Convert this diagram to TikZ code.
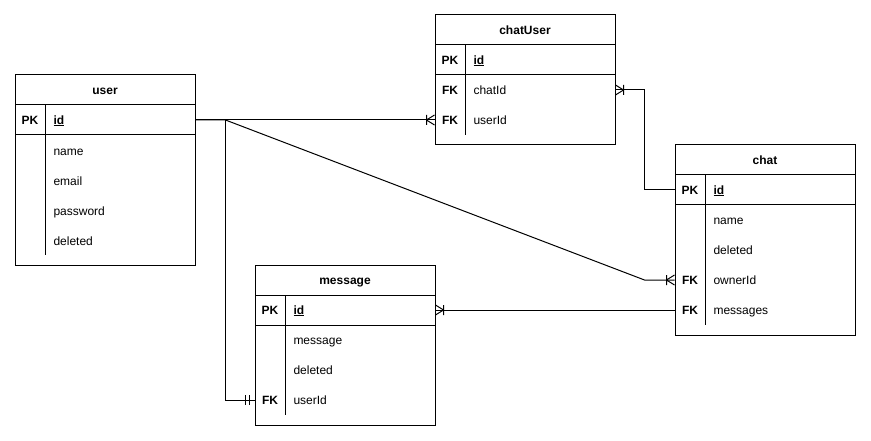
\documentclass[tikz,border=0pt]{standalone}
\usepackage{fontspec}
\setmainfont{Liberation Sans}
\begin{document}
\begin{tikzpicture}[x=1pt,y=-1pt,line width=1pt,
  tbl/.style={draw,rectangle,inner sep=0pt,fill=white},
  rowbox/.style={rectangle,inner sep=0pt,minimum width=180pt,minimum height=30pt},
  title/.style={font=\fontsize{12}{14}\selectfont\bfseries,text height=10pt,text depth=1.8pt,inner sep=0pt},
  keytxt/.style={font=\fontsize{12}{14}\selectfont\bfseries,text height=10pt,text depth=1.8pt,inner sep=0pt},
  fieldtxt/.style={anchor=west,font=\fontsize{12}{14}\selectfont,inner sep=0pt,text height=10pt,text depth=1.8pt},
  keyfield/.style={fieldtxt,font=\fontsize{12}{14}\selectfont\bfseries},
  conn/.style={draw,line width=1pt}]
\useasboundingbox (0,0) rectangle (871,441);

% ---------- user ----------
\node[tbl,minimum width=180pt,minimum height=190pt] (user) at (105,170) {};
\draw (15,105) -- (195,105);
\draw (15,135) -- (195,135);
\draw (45,105) -- (45,255);
\node[title] (userT) at (105,90) {user};
\node[rowbox] (uRowId) at (105,120) {};
\node[keytxt] (uPK) at (30,120) {PK};
\node[keyfield] (uId) at (53,120) {\underline{id}};
\node[fieldtxt] (uName) at (53,151) {name};
\node[fieldtxt] (uEmail) at (53,181) {email};
\node[fieldtxt] (uPass) at (53,211) {password};
\node[fieldtxt] (uDel) at (53,241) {deleted};

% ---------- chatUser ----------
\node[tbl,minimum width=180pt,minimum height=130pt] (chatUser) at (525,80) {};
\draw (435,45) -- (615,45);
\draw (435,75) -- (615,75);
\draw (465,45) -- (465,135);
\node[title] (cuT) at (525,30) {chatUser};
\node[rowbox] (cuRowId) at (525,60) {};
\node[rowbox] (cuRowChat) at (525,90) {};
\node[rowbox] (cuRowUser) at (525,120) {};
\node[keytxt] (cuPK) at (450,60) {PK};
\node[keyfield] (cuId) at (473,60) {\underline{id}};
\node[keytxt] (cuFK1) at (450,90) {FK};
\node[fieldtxt] (cuChat) at (473,90) {chatId};
\node[keytxt] (cuFK2) at (450,120) {FK};
\node[fieldtxt] (cuUser) at (473,120) {userId};

% ---------- chat ----------
\node[tbl,minimum width=180pt,minimum height=190pt] (chat) at (765,240) {};
\draw (675,175) -- (855,175);
\draw (675,205) -- (855,205);
\draw (705,175) -- (705,325);
\node[title] (chT) at (765,160) {chat};
\node[rowbox] (chRowId) at (765,190) {};
\node[rowbox] (chRowOwner) at (765,280) {};
\node[rowbox] (chRowMsg) at (765,310) {};
\node[keytxt] (chPK) at (690,190) {PK};
\node[keyfield] (chId) at (713,190) {\underline{id}};
\node[fieldtxt] (chName) at (713,220) {name};
\node[fieldtxt] (chDel) at (713,250) {deleted};
\node[keytxt] (chFK1) at (690,280) {FK};
\node[fieldtxt] (chOwner) at (713,280) {ownerId};
\node[keytxt] (chFK2) at (690,310) {FK};
\node[fieldtxt] (chMsg) at (713,310) {messages};

% ---------- message ----------
\node[tbl,minimum width=180pt,minimum height=160pt] (message) at (345,345) {};
\draw (255,295) -- (435,295);
\draw (255,325) -- (435,325);
\draw (285,295) -- (285,415);
\node[title] (mT) at (345,280) {message};
\node[rowbox] (mRowId) at (345,310) {};
\node[rowbox] (mRowUser) at (345,400) {};
\node[keytxt] (mPK) at (270,310) {PK};
\node[keyfield] (mId) at (293,310) {\underline{id}};
\node[fieldtxt] (mMsg) at (293,340) {message};
\node[fieldtxt] (mDel) at (293,370) {deleted};
\node[keytxt] (mFK) at (270,400) {FK};
\node[fieldtxt] (mUser) at (293,400) {userId};

% ---------- connectors ----------
% user.id -> chatUser.userId
\draw[conn] (uRowId.east) -- (cuRowUser.west);
\draw ([xshift=-8pt]cuRowUser.west) -- ++(8,-5) ([xshift=-8pt]cuRowUser.west) -- ++(8,5)
      ([xshift=-8pt]cuRowUser.west) ++(0,-5) -- ++(0,10);
% user.id -> chat.ownerId
\draw[conn] (uRowId.east) -- ++(30,0) coordinate (jn) -- ([xshift=-30pt]chRowOwner.west) -- (chRowOwner.west);
\draw ([xshift=-8pt]chRowOwner.west) -- ++(8,-5) ([xshift=-8pt]chRowOwner.west) -- ++(8,5)
      ([xshift=-8pt]chRowOwner.west) ++(0,-5) -- ++(0,10);
% user.id -> message.userId
\draw[conn] (jn) |- (mRowUser.west);
\draw ([xshift=-9pt]mRowUser.west) ++(0,-5) -- ++(0,10)
      ([xshift=-5pt]mRowUser.west) ++(0,-5) -- ++(0,10);
% chat.id -> chatUser.chatId
\draw[conn] (chRowId.west) -- ++(-30,0) |- (cuRowChat.east);
\draw ([xshift=8pt]cuRowChat.east) -- ++(-8,-5) ([xshift=8pt]cuRowChat.east) -- ++(-8,5)
      ([xshift=8pt]cuRowChat.east) ++(0,-5) -- ++(0,10);
% chat.messages -> message.id
\draw[conn] (chRowMsg.west) -- (mRowId.east);
\draw ([xshift=8pt]mRowId.east) -- ++(-8,-5) ([xshift=8pt]mRowId.east) -- ++(-8,5)
      ([xshift=8pt]mRowId.east) ++(0,-5) -- ++(0,10);
\end{tikzpicture}
\end{document}
